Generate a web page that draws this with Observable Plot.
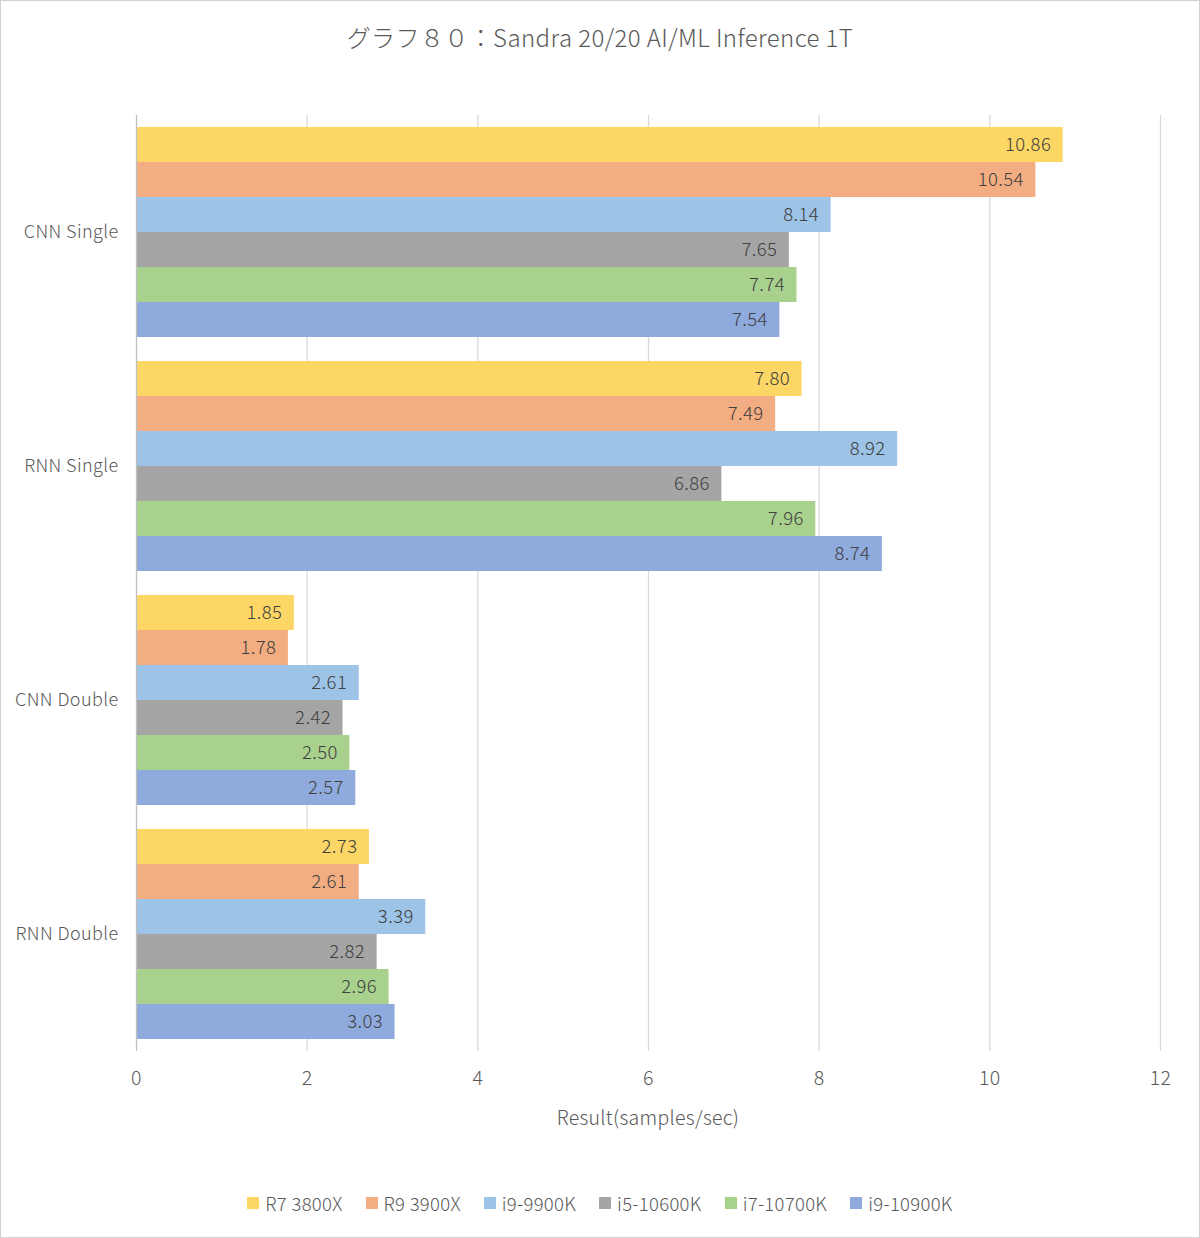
<!DOCTYPE html>
<html>
<head>
<meta charset="utf-8">
<script src="https://cdn.jsdelivr.net/npm/d3@7"></script>
<script src="https://cdn.jsdelivr.net/npm/@observablehq/plot@0.6"></script>
<style>
  html, body { margin: 0; padding: 0; background: #fff; }
  #wrap { position: relative; width: 1200px; height: 1238px; overflow: hidden; font-family: "Noto Sans CJK JP", "Noto Sans", sans-serif; font-weight: 300; color: #595959; }
  #frame { position: absolute; left: 0; top: 0; width: 1200px; height: 1238px; box-sizing: border-box; border: 1px solid #d0d0d0; pointer-events: none; }
  #title { position: absolute; left: 0; width: 1200px; top: 21px; text-align: center; font-size: 24px; line-height: 32px; letter-spacing: 0.4px; }
  #chart { position: absolute; left: 0; top: 90px; }
  #chart text { font-weight: 300; }
  #xlabel { position: absolute; left: 136px; width: 1024px; top: 1104px; text-align: center; font-size: 19.5px; line-height: 26px; letter-spacing: 0.3px; }
  #legend { position: absolute; left: 0; width: 1200px; top: 1190px; display: flex; justify-content: center; gap: 23px; font-size: 18.5px; line-height: 26px; letter-spacing: 0.3px; }
  #legend .item { display: flex; align-items: center; }
  #legend .sw { width: 12px; height: 12px; margin-right: 6px; }
</style>
</head>
<body>
<div id="wrap">
  <div id="title">グラフ８０：Sandra 20/20 AI/ML Inference 1T</div>
  <div id="chart"></div>
  <div id="xlabel">Result(samples/sec)</div>
  <div id="legend"></div>
  <div id="frame"></div>
</div>
<script>
const categories = ["CNN Single", "RNN Single", "CNN Double", "RNN Double"];
const cpus = ["R7 3800X", "R9 3900X", "i9-9900K", "i5-10600K", "i7-10700K", "i9-10900K"];
const colors = ["#fdd766", "#f2ae82", "#9dc3e6", "#a5a5a5", "#a9d18e", "#8faadc"];
const r7_3800x  = [10.86, 7.80, 1.85, 2.73];
const r9_3900x  = [10.54, 7.49, 1.78, 2.61];
const i9_9900k  = [8.14, 8.92, 2.61, 3.39];
const i5_10600k = [7.65, 6.86, 2.42, 2.82];
const i7_10700k = [7.74, 7.96, 2.50, 2.96];
const i9_10900k = [7.54, 8.74, 2.57, 3.03];
const xTicks = [0, 2, 4, 6, 8, 10, 12];

const series = [r7_3800x, r9_3900x, i9_9900k, i5_10600k, i7_10700k, i9_10900k];
const rows = [];
categories.forEach((c, ci) => {
  cpus.forEach((p, pi) => rows.push({category: c, cpu: p, value: series[pi][ci]}));
});

const chart = Plot.plot({
  width: 1200,
  height: 1050,
  marginTop: 24,
  marginBottom: 88,
  marginLeft: 136,
  marginRight: 40,
  style: {fontFamily: '"Noto Sans CJK JP", "Noto Sans", sans-serif', fontSize: "18px", color: "#595959", background: "transparent", letterSpacing: "0.4px"},
  facet: {data: rows, y: "category"},
  fy: {domain: categories, padding: 0, axis: "left", tickSize: 0, tickPadding: 18, label: null},
  y: {domain: cpus, paddingInner: 0, paddingOuter: 0.3, axis: null},
  x: {domain: [0, 12], ticks: xTicks, axis: "bottom", tickSize: 0, tickPadding: 20, label: null, tickFormat: d => String(d)},
  color: {domain: cpus, range: colors},
  marks: [
    Plot.ruleX(xTicks.filter(d => d > 0), {stroke: "#d9d9d9", strokeWidth: 1.3}),
    Plot.barX(rows, {x: "value", y: "cpu", fill: "cpu"}),
    Plot.ruleX([0], {stroke: "#bfbfbf", strokeWidth: 1.3}),
    Plot.text(rows, {x: "value", y: "cpu", text: d => d.value.toFixed(2), textAnchor: "end", dx: -12, fill: "#404040", fontSize: 18.5})
  ]
});
chart.querySelectorAll("g[aria-label='x-axis tick label'] text, g[aria-label='x-axis'] text").forEach(t => t.style.fontSize = "19.5px");
document.getElementById("chart").appendChild(chart);

const legend = document.getElementById("legend");
cpus.forEach((p, i) => {
  const it = document.createElement("div");
  it.className = "item";
  const sw = document.createElement("div");
  sw.className = "sw";
  sw.style.background = colors[i];
  const tx = document.createElement("span");
  tx.textContent = p;
  it.appendChild(sw); it.appendChild(tx);
  legend.appendChild(it);
});
</script>
</body>
</html>
